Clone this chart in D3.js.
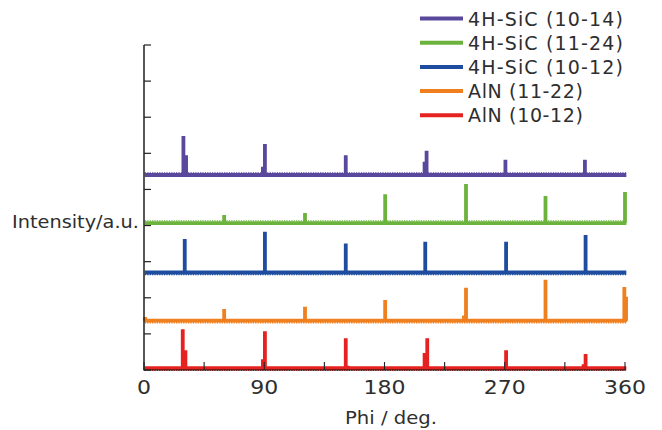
<!DOCTYPE html>
<html>
<head>
<meta charset="utf-8">
<script src="https://cdn.jsdelivr.net/npm/d3@7"></script>
<style>
  html, body { margin: 0; padding: 0; background: #fff; }
  svg { display: block; }
  text { font-family: "DejaVu Sans", "Noto Sans", sans-serif; fill: #2e2e2e; }
</style>
</head>
<body>
<svg id="chart" width="662" height="430"></svg>
<script>
// Phi-scan intensities (a.u.), each pattern shifted up by its own offset
const seriesLabels = ["4H-SiC (10-14)", "4H-SiC (11-24)", "4H-SiC (10-12)", "AlN (11-22)", "AlN (10-12)"];
const seriesColors = ["#5a489c", "#6cb33e", "#1e4c9f", "#ef7f1f", "#e5221f"];
const baselineOffsets = [5.40, 4.07, 2.70, 1.37, 0.05];

// peak positions (deg) and heights above the baseline (a.u.)
const sic1014Phi = [29.5, 31.5, 89.0, 90.5, 151.0, 210.0, 211.5, 270.5, 330.0];
const sic1014Int = [1.08, 0.55, 0.23, 0.86, 0.55, 0.37, 0.67, 0.42, 0.42];

const sic1124Phi = [60.0, 120.5, 180.5, 241.0, 300.5, 360.0];
const sic1124Int = [0.22, 0.28, 0.80, 1.08, 0.75, 0.86];

const sic1012Phi = [30.5, 90.5, 151.0, 210.5, 271.0, 330.5];
const sic1012Int = [0.93, 1.13, 0.80, 0.85, 0.85, 1.04];

const aln1122Phi = [0.8, 60.0, 120.5, 180.5, 239.5, 241.0, 300.5, 359.5, 360.8];
const aln1122Int = [0.10, 0.32, 0.38, 0.57, 0.14, 0.91, 1.13, 0.93, 0.66];

const aln1012Phi = [29.0, 31.0, 89.0, 90.5, 151.0, 152.5, 210.0, 212.0, 271.0, 329.0, 330.5];
const aln1012Int = [1.08, 0.50, 0.25, 1.02, 0.83, 0.07, 0.42, 0.83, 0.50, 0.11, 0.39];

const phiRange = [0.6, 361];
const xTickLabels = [0, 90, 180, 270, 360];
const xMinorTicks = [45, 135, 225, 315];
const yTickValues = [0, 1, 2, 3, 4, 5, 6, 7, 8, 9];

const peakPhis = [sic1014Phi, sic1124Phi, sic1012Phi, aln1122Phi, aln1012Phi];
const peakInts = [sic1014Int, sic1124Int, sic1012Int, aln1122Int, aln1012Int];

const svg = d3.select("#chart");
const x = d3.scaleLinear().domain([0, 360]).range([144, 625]);
const y = d3.scaleLinear().domain([0, 9]).range([370, 45]);

// build each trace: flat baseline with narrow vertical peaks
function buildTrace(i) {
  const b = baselineOffsets[i];
  const pts = [[phiRange[0], b]];
  peakPhis[i].map((p, k) => [p, peakInts[i][k]])
    .sort((a, c) => a[0] - c[0])
    .forEach(([p, h]) => {
      pts.push([p, b], [p, b + h], [p, b]);
    });
  pts.push([phiRange[1], b]);
  return pts;
}

const line = d3.line().x(d => x(d[0])).y(d => y(d[1]));

const traces = svg.append("g");
seriesLabels.forEach((name, i) => {
  const data = buildTrace(i);
  const g = traces.append("g");
  // fine noise fringe along the baseline
  const fringeUp = i < 2;
  g.append("line")
    .attr("x1", x(phiRange[0])).attr("x2", x(phiRange[1]))
    .attr("y1", y(baselineOffsets[i]) + (fringeUp ? -2.2 : 2.2))
    .attr("y2", y(baselineOffsets[i]) + (fringeUp ? -2.2 : 2.2))
    .attr("stroke", seriesColors[i])
    .attr("stroke-width", 1.3)
    .attr("stroke-dasharray", "1.3,1.1");
  g.append("path")
    .datum(data)
    .attr("d", line)
    .attr("fill", "none")
    .attr("stroke", seriesColors[i])
    .attr("stroke-width", 3.8)
    .attr("stroke-linejoin", "bevel");
});

// axes
const axisG = svg.append("g");
axisG.append("line")
  .attr("x1", x(0)).attr("x2", x(0))
  .attr("y1", y(9)).attr("y2", y(0) + 0.5)
  .attr("stroke", "#111").attr("stroke-width", 1.4);
axisG.append("line")
  .attr("x1", x(0)).attr("x2", x(360))
  .attr("y1", y(0)).attr("y2", y(0))
  .attr("stroke", "#111").attr("stroke-width", 1.2);

axisG.selectAll(".ytick").data(yTickValues).join("line")
  .attr("class", "ytick")
  .attr("x1", x(0)).attr("x2", x(0) + 7)
  .attr("y1", d => y(d)).attr("y2", d => y(d))
  .attr("stroke", "#222").attr("stroke-width", 1.2);

axisG.selectAll(".xtick").data(xTickLabels.concat(xMinorTicks)).join("line")
  .attr("class", "xtick")
  .attr("x1", d => x(d)).attr("x2", d => x(d))
  .attr("y1", y(0)).attr("y2", y(0) - 8)
  .attr("stroke", "#222").attr("stroke-width", 1.1);

const tickWidths = [14, 28, 42, 42, 42];
axisG.selectAll(".xlabel").data(xTickLabels).join("text")
  .attr("class", "xlabel")
  .attr("x", d => x(d)).attr("y", 394)
  .attr("text-anchor", "middle")
  .attr("font-size", 19.5)
  .attr("textLength", (d, k) => tickWidths[k])
  .attr("lengthAdjust", "spacingAndGlyphs")
  .text(d => d);

svg.append("text")
  .attr("x", 391).attr("y", 424)
  .attr("text-anchor", "middle")
  .attr("font-size", 18.5)
  .attr("textLength", 92)
  .attr("lengthAdjust", "spacingAndGlyphs")
  .text("Phi / deg.");

svg.append("text")
  .attr("x", 139).attr("y", 228)
  .attr("text-anchor", "end")
  .attr("font-size", 18)
  .attr("textLength", 127)
  .attr("lengthAdjust", "spacingAndGlyphs")
  .text("Intensity/a.u.");

// legend
const legend = svg.append("g");
const legendWidths = [155, 155, 155, 115, 115];
seriesLabels.forEach((name, i) => {
  const ly = 18.5 + i * 24.2;
  legend.append("line")
    .attr("x1", 420).attr("x2", 463)
    .attr("y1", ly).attr("y2", ly)
    .attr("stroke", seriesColors[i]).attr("stroke-width", 4);
  legend.append("text")
    .attr("x", 468).attr("y", ly + 7)
    .attr("font-size", 19)
    .attr("textLength", legendWidths[i])
    .attr("lengthAdjust", "spacing")
    .text(name);
});
</script>
</body>
</html>
